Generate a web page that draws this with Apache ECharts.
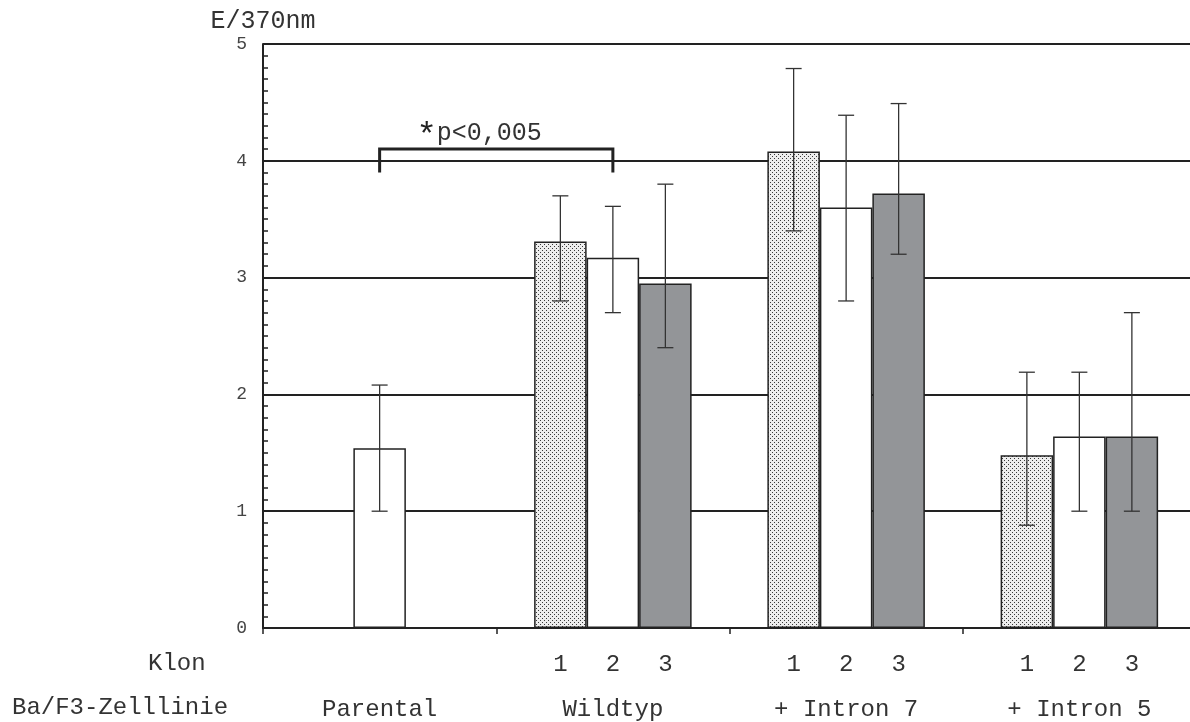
<!DOCTYPE html>
<html>
<head>
<meta charset="utf-8">
<script src="https://cdn.jsdelivr.net/npm/echarts@6/dist/echarts.min.js"></script>
<style>
  html, body { margin: 0; padding: 0; background: #fff; }
  #main { width: 1190px; height: 722px; }
</style>
</head>
<body>
<div id="main"></div>
<script>
  // Zelllinien (Kategorien) und Klon-Nummern
  const groups = ['Parental', 'Wildtyp', '+ Intron 7', '+ Intron 5'];
  const klonNames = ['1', '2', '3'];
  const klonGroups = [1, 2, 3];   // Gruppen mit Klon-Beschriftung

  // Mittelwerte E/370nm je Klon
  const klon1 = ['-', 3.31, 4.08, 1.48];
  const klon2 = [1.54, 3.17, 3.60, 1.64];
  const klon3 = ['-', 2.95, 3.72, 1.64];

  // Fehlerbalken [unten, oben]
  const klon1Err = [null, [2.80, 3.70], [3.40, 4.79], [0.88, 2.19]];
  const klon2Err = [[1.00, 2.08], [2.70, 3.61], [2.80, 4.39], [1.00, 2.19]];
  const klon3Err = [null, [2.40, 3.80], [3.20, 4.49], [1.00, 2.70]];

  // Signifikanz Parental vs. Wildtyp
  const sigFrom = 0, sigTo = 1, sigTop = 4.10, sigBottom = 3.90;
  const sigText = 'p<0,005';

  const yTicks = [0, 1, 2, 3, 4, 5];

  const FONT = "'Liberation Mono', 'DejaVu Sans Mono', monospace";
  const BAR_W = 52.5;

  // Punktraster fuer Klon 1
  const pat = document.createElement('canvas');
  pat.width = 4; pat.height = 4;
  const pc = pat.getContext('2d');
  pc.fillStyle = '#eeeeee';
  pc.fillRect(0, 0, 4, 4);
  pc.fillStyle = '#3a3a3a';
  pc.fillRect(0, 0, 1, 1);
  pc.fillRect(2, 2, 1, 1);

  const errData = [];
  [klon1Err, klon2Err, klon3Err].forEach(function (arr, s) {
    arr.forEach(function (e, c) {
      if (e) errData.push([c, s, e[0], e[1]]);
    });
  });

  const klonData = [];
  klonGroups.forEach(function (c) {
    klonNames.forEach(function (n, s) { klonData.push([c, s, 0]); });
  });

  function barStyle(color) {
    return { color: color, borderColor: '#222', borderWidth: 1.5 };
  }

  const chart = echarts.init(document.getElementById('main'));
  chart.setOption({
    animation: false,
    backgroundColor: '#fff',
    textStyle: { fontFamily: FONT },
    // Achse laeuft ueber den rechten Rand hinaus
    grid: { left: 263, top: 44, width: 933, height: 584, outerBoundsMode: 'none' },
    xAxis: {
      type: 'category',
      data: groups,
      boundaryGap: true,
      axisLine: { lineStyle: { color: '#222', width: 2 } },
      axisTick: { show: true, length: 6, lineStyle: { color: '#222', width: 1.5 } },
      axisLabel: {
        margin: 82, verticalAlign: 'middle',
        fontFamily: FONT, fontSize: 24, color: '#333'
      },
      splitLine: { show: false }
    },
    yAxis: {
      type: 'value',
      min: yTicks[0], max: yTicks[yTicks.length - 1], interval: 1,
      name: 'E/370nm',
      nameLocation: 'end',
      nameGap: 10,
      nameTextStyle: { fontFamily: FONT, fontSize: 25, color: '#333' },
      axisLine: { show: true, lineStyle: { color: '#222', width: 2 } },
      axisTick: { show: true, inside: true, length: 6, lineStyle: { color: '#222', width: 1.5 } },
      minorTick: { show: true, splitNumber: 10, length: 5, lineStyle: { color: '#222', width: 1.5 } },
      axisLabel: { margin: 16, fontFamily: FONT, fontSize: 18, color: '#444' },
      splitLine: { show: true, lineStyle: { color: '#222', width: 1.8 } }
    },
    graphic: [
      { type: 'text', left: 148, top: 652, style: { text: 'Klon', font: '24px ' + FONT, fill: '#333' } },
      { type: 'text', left: 12, top: 696, style: { text: 'Ba/F3-Zelllinie', font: '24px ' + FONT, fill: '#333' } }
    ],
    series: [
      { name: 'Klon 1', type: 'bar', data: klon1, barWidth: BAR_W, barGap: '0%', itemStyle: barStyle({ image: pat, repeat: 'repeat' }) },
      { name: 'Klon 2', type: 'bar', data: klon2, barWidth: BAR_W, barGap: '0%', itemStyle: barStyle('#ffffff') },
      { name: 'Klon 3', type: 'bar', data: klon3, barWidth: BAR_W, barGap: '0%', itemStyle: barStyle('#939598') },
      {
        name: 'Fehler', type: 'custom', z: 5,
        encode: { x: 0, y: [2, 3] },
        data: errData,
        renderItem: function (params, api) {
          const c = api.value(0), s = api.value(1);
          const lo = api.coord([c, api.value(2)]);
          const hi = api.coord([c, api.value(3)]);
          const x = lo[0] + (s - 1) * BAR_W;
          const st = { stroke: '#333', lineWidth: 1.3 };
          return {
            type: 'group',
            children: [
              { type: 'line', shape: { x1: x, y1: hi[1], x2: x, y2: lo[1] }, style: st },
              { type: 'line', shape: { x1: x - 8, y1: hi[1], x2: x + 8, y2: hi[1] }, style: st },
              { type: 'line', shape: { x1: x - 8, y1: lo[1], x2: x + 8, y2: lo[1] }, style: st }
            ]
          };
        }
      },
      {
        name: 'Klon-Nr', type: 'custom', z: 5, clip: false,
        encode: { x: 0, y: 2 },
        data: klonData,
        renderItem: function (params, api) {
          const c = api.value(0), s = api.value(1);
          const p = api.coord([c, api.value(2)]);
          return {
            type: 'text',
            style: {
              x: p[0] + (s - 1) * BAR_W, y: p[1] + 37,
              text: klonNames[s], align: 'center', verticalAlign: 'middle',
              font: '24px ' + FONT, fill: '#333'
            }
          };
        }
      },
      {
        name: 'Signifikanz', type: 'custom', z: 6, clip: false,
        encode: { x: [0, 1], y: [2, 3] },
        data: [[sigFrom, sigTo, sigTop, sigBottom]],
        renderItem: function (params, api) {
          const a = api.coord([api.value(0), api.value(2)]);
          const b = api.coord([api.value(1), api.value(2)]);
          const yb = api.coord([api.value(0), api.value(3)])[1];
          return {
            type: 'group',
            children: [
              {
                type: 'polyline',
                shape: { points: [[a[0], yb], [a[0], a[1]], [b[0], b[1]], [b[0], yb]] },
                style: { stroke: '#222', lineWidth: 3, fill: null }
              },
              {
                type: 'text',
                style: { x: a[0] + 47, y: a[1] - 13, text: '*', align: 'center', verticalAlign: 'middle', font: '34px ' + FONT, fill: '#222' }
              },
              {
                type: 'text',
                style: { x: a[0] + 57, y: a[1] - 16, text: sigText, align: 'left', verticalAlign: 'middle', font: '25px ' + FONT, fill: '#333' }
              }
            ]
          };
        }
      }
    ]
  });
</script>
</body>
</html>
